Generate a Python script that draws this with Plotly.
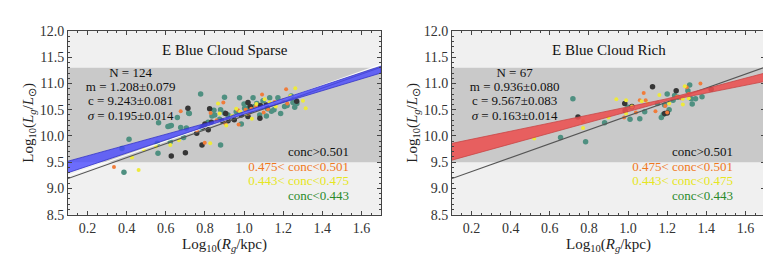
import plotly.graph_objects as go

W, H = 771, 259

# ---------------- data: Sparse panel ----------------
sp_teal_x = [0.386, 0.376, 0.412, 0.56, 0.556, 0.563, 0.62, 0.623, 0.659, 0.676, 0.717, 0.691, 0.778,
             0.816, 0.836, 0.846, 0.875, 0.88, 0.90, 0.918, 0.977, 0.986, 1.003, 1.023, 1.046, 1.054,
             1.08, 1.097, 1.114, 1.131, 1.153, 1.173, 1.187, 1.207, 1.241, 1.25, 1.259, 0.90, 0.88,
             0.628, 0.705, 0.611, 0.78, 0.96, 1.03, 1.065, 1.12, 1.14, 0.94, 1.00, 0.72, 0.85, 1.22, 1.27]
sp_teal_y = [9.31, 9.76, 9.94, 9.67, 9.86, 10.25, 10.19, 9.89, 10.35, 10.16, 10.44, 9.97, 10.80,
             10.26, 10.38, 10.49, 10.32, 9.83, 10.74, 10.40, 10.73, 10.23, 10.53, 10.54, 10.73, 10.56,
             10.40, 10.67, 10.38, 10.73, 10.50, 10.73, 10.43, 10.56, 10.76, 10.64, 10.55, 10.44, 10.50,
             10.20, 10.15, 10.18, 10.15, 10.46, 10.47, 10.62, 10.52, 10.47, 10.36, 10.61, 10.43, 10.40, 10.58, 10.62]
sp_black_x = [0.628, 0.713, 0.70, 0.758, 0.785, 0.79, 0.80, 0.817, 0.824, 0.833, 0.889, 0.906, 0.918,
              1.02, 1.02, 1.032, 1.081, 1.083, 1.114, 1.269, 0.986, 0.95]
sp_black_y = [9.62, 10.53, 9.68, 10.05, 9.83, 10.17, 10.23, 10.12, 10.52, 10.26, 10.28, 10.43, 10.29,
              10.64, 10.37, 10.56, 10.34, 10.58, 10.59, 10.66, 10.40, 10.31]
sp_orange_x = [0.335, 0.676, 0.799, 0.829, 0.894, 0.904, 0.969, 0.972, 1.008, 1.037, 1.06, 1.092, 1.122,
               1.156, 1.215, 1.221, 1.199, 1.023, 1.10, 0.76, 0.86]
sp_orange_y = [9.41, 10.47, 9.87, 10.44, 10.64, 10.24, 10.49, 10.22, 10.50, 10.52, 10.56, 10.79, 10.51,
               10.65, 10.89, 10.62, 10.68, 10.43, 10.45, 10.10, 10.30]
sp_yellow_x = [0.427, 0.461, 0.488, 0.623, 0.667, 0.827, 0.867, 0.875, 0.909, 0.938, 0.96, 1.01, 1.063,
               1.105, 1.131, 1.162, 1.262, 1.301, 1.315, 1.237, 0.55, 1.04, 0.98]
sp_yellow_y = [9.59, 9.35, 9.74, 9.83, 9.92, 9.86, 10.62, 10.43, 10.20, 10.38, 10.52, 10.42, 10.61,
               10.70, 10.64, 10.56, 10.91, 10.67, 10.53, 10.76, 9.80, 10.33, 10.46]

# fit band and reference line
sp_band_x = [0.1, 0.9, 1.7]
sp_band_lo = [9.30, 10.30, 11.20]
sp_band_hi = [9.52, 10.34, 11.33]

# ---------------- data: Rich panel ----------------
ri_teal_x = [0.655, 0.718, 0.783, 0.88, 1.01, 0.999, 1.017, 1.085, 1.17, 1.187, 1.2, 1.21, 1.23, 1.238,
             1.255, 1.315, 1.323, 1.328, 1.345, 1.378, 1.306, 1.18, 1.06, 1.15]
ri_teal_y = [9.97, 10.71, 9.89, 10.25, 10.32, 10.55, 10.55, 10.46, 10.35, 10.59, 10.80, 10.50, 10.68, 10.77,
             10.74, 10.97, 10.71, 10.61, 10.71, 10.75, 10.86, 10.41, 10.33, 10.62]
ri_black_x = [0.744, 0.983, 1.02, 1.125, 1.246, 1.187, 1.20, 1.425, 0.985]
ri_black_y = [10.36, 10.62, 10.56, 10.94, 10.86, 10.43, 10.44, 10.89, 10.48]
ri_orange_x = [0.77, 0.98, 1.04, 1.06, 1.09, 1.08, 1.19, 1.2, 1.25, 1.30, 1.31, 1.37, 1.14, 1.27]
ri_orange_y = [10.28, 10.35, 10.45, 10.68, 10.68, 10.82, 10.57, 10.45, 10.75, 10.93, 10.80, 11.0, 10.47, 10.72]
ri_yellow_x = [0.52, 0.77, 0.9, 0.94, 0.99, 0.99, 1.07, 1.10, 1.16, 1.21, 1.28, 1.29, 1.28, 1.31, 1.02]
ri_yellow_y = [9.95, 10.15, 10.35, 10.70, 10.68, 10.43, 10.66, 10.62, 10.78, 10.62, 10.71, 10.95, 10.60, 10.72, 10.56]

ri_band_x = [0.1, 1.2, 1.7]
ri_band_lo = [9.54, 10.67, 11.04]
ri_band_hi = [9.86, 10.71, 11.20]

ref_x = [0.1, 1.7]
ref_y = [9.19, 11.31]

titles = ["E Blue Cloud Sparse", "E Blue Cloud Rich"]
stats = [["N = 124", "m = 1.208±0.079", "c = 9.243±0.081", "<i>σ</i> = 0.195±0.014"],
         ["N = 67", "m = 0.936±0.080", "c = 9.567±0.083", "<i>σ</i> = 0.163±0.014"]]
stats_y = [11.19, 10.92, 10.65, 10.36]
legend_labels = ["conc>0.501", "0.475< conc<0.501", "0.443< conc<0.475", "conc<0.443"]
legend_colors = ["#111111", "#f07820", "#e6e620", "#2a8a2a"]
legend_y = [9.68, 9.39, 9.12, 8.85]

x_ticks = [0.2, 0.4, 0.6, 0.8, 1.0, 1.2, 1.4, 1.6]
y_ticks = [8.5, 9.0, 9.5, 10.0, 10.5, 11.0, 11.5, 12.0]

TEAL = "#4f9081"
BLACK = "#363636"
ORANGE = "#f07c3a"
YELLOW = "#eeea3a"
FONT = "Liberation Serif"

fig = go.Figure()

panels = [
    dict(xa="x", ya="y", teal=(sp_teal_x, sp_teal_y), black=(sp_black_x, sp_black_y),
         orange=(sp_orange_x, sp_orange_y), yellow=(sp_yellow_x, sp_yellow_y),
         band=(sp_band_x, sp_band_lo, sp_band_hi), bandfill="rgba(70,70,255,0.78)", bandline="#3434c8",
         white=True, stats=stats[0]),
    dict(xa="x2", ya="y2", teal=(ri_teal_x, ri_teal_y), black=(ri_black_x, ri_black_y),
         orange=(ri_orange_x, ri_orange_y), yellow=(ri_yellow_x, ri_yellow_y),
         band=(ri_band_x, ri_band_lo, ri_band_hi), bandfill="rgba(235,80,80,0.88)", bandline="#c84848",
         white=False, stats=stats[1]),
]

for p in panels:
    xa, ya = p["xa"], p["ya"]
    for key, col, sz in [("teal", TEAL, 5.5), ("black", BLACK, 5.5), ("orange", ORANGE, 4), ("yellow", YELLOW, 4)]:
        xs, ys = p[key]
        fig.add_trace(go.Scatter(x=xs, y=ys, mode="markers", xaxis=xa, yaxis=ya, showlegend=False,
                                 marker=dict(color=col, size=sz, line=dict(width=0))))
    if p["white"]:
        fig.add_trace(go.Scatter(x=ref_x, y=[v + 0.05 for v in ref_y], mode="lines", xaxis=xa, yaxis=ya,
                                 showlegend=False, line=dict(color="rgba(255,255,255,0.9)", width=1.2)))
    fig.add_trace(go.Scatter(x=ref_x, y=ref_y, mode="lines", xaxis=xa, yaxis=ya, showlegend=False,
                             line=dict(color="#555555", width=1.1)))
    bx, blo, bhi = p["band"]
    fig.add_trace(go.Scatter(x=bx + bx[::-1], y=blo + bhi[::-1], mode="lines", fill="toself",
                             fillcolor=p["bandfill"], xaxis=xa, yaxis=ya, showlegend=False,
                             line=dict(color=p["bandline"], width=0.8)))
    # statistics block (centered)
    fig.add_trace(go.Scatter(x=[0.42] * 4, y=stats_y, mode="text", text=p["stats"], textposition="middle center",
                             textfont=dict(family=FONT, size=13, color="#111111"),
                             xaxis=xa, yaxis=ya, showlegend=False, hoverinfo="skip"))
    # colour key (right aligned)
    fig.add_trace(go.Scatter(x=[1.537] * 4, y=legend_y, mode="text", text=legend_labels,
                             textposition="middle left",
                             textfont=dict(family=FONT, size=13, color=legend_colors),
                             xaxis=xa, yaxis=ya, showlegend=False, hoverinfo="skip"))

# layout geometry (pixels -> paper)
left_dom = [60 / W, 373 / W]
right_dom = [444 / W, 757 / W]
y_dom = [1 - 212 / H, 1 - 17 / H]

axis_common = dict(showgrid=False, zeroline=False, showline=True, linecolor="#444444", linewidth=1,
                   mirror="ticks", ticks="inside", ticklen=4, tickcolor="#444444",
                   tickfont=dict(family=FONT, size=14, color="#333333"))

xtitle = dict(text="Log<sub>10</sub>(<i>R<sub>g</sub></i>/kpc)", font=dict(family=FONT, size=15, color="#222222"),
              standoff=2)
ytitle = dict(text="Log<sub>10</sub>(<i>L<sub>g</sub></i>/<i>L</i><sub>⊙</sub>)",
              font=dict(family=FONT, size=15, color="#222222"), standoff=2)

xcommon = dict(axis_common, range=[0.1, 1.7], tickvals=x_ticks, ticktext=[f"{v:.1f}" for v in x_ticks],
               minor=dict(ticks="inside", ticklen=2, dtick=0.05, tick0=0, tickcolor="#444444"), title=xtitle)
ycommon = dict(axis_common, range=[8.5, 12.0], tickvals=y_ticks, ticktext=[f"{v:.1f}" for v in y_ticks],
               minor=dict(ticks="inside", ticklen=2, dtick=0.1, tick0=0, tickcolor="#444444"), title=ytitle)

fig.update_layout(
    width=W, height=H, margin=dict(l=0, r=0, t=0, b=0),
    paper_bgcolor="white", plot_bgcolor="#f0f0f0",
    xaxis=dict(xcommon, domain=left_dom, anchor="y"),
    yaxis=dict(ycommon, domain=y_dom, anchor="x"),
    xaxis2=dict(xcommon, domain=right_dom, anchor="y2"),
    yaxis2=dict(ycommon, domain=y_dom, anchor="x2"),
)

shapes = []
annotations = []
for i, (xr, yr) in enumerate([("x", "y"), ("x2", "y2")]):
    shapes.append(dict(type="rect", xref=f"{xr} domain", yref=yr, x0=0, x1=1, y0=9.5, y1=11.3,
                       fillcolor="#c9c9c9", line=dict(width=0), layer="below"))
    annotations.append(dict(xref=f"{xr} domain", yref=yr, x=0.5, y=11.64, text=titles[i], showarrow=False,
                            font=dict(family=FONT, size=15, color="#111111"), xanchor="center", yanchor="middle"))

fig.update_layout(shapes=shapes, annotations=annotations)
fig.write_html("out.html")
